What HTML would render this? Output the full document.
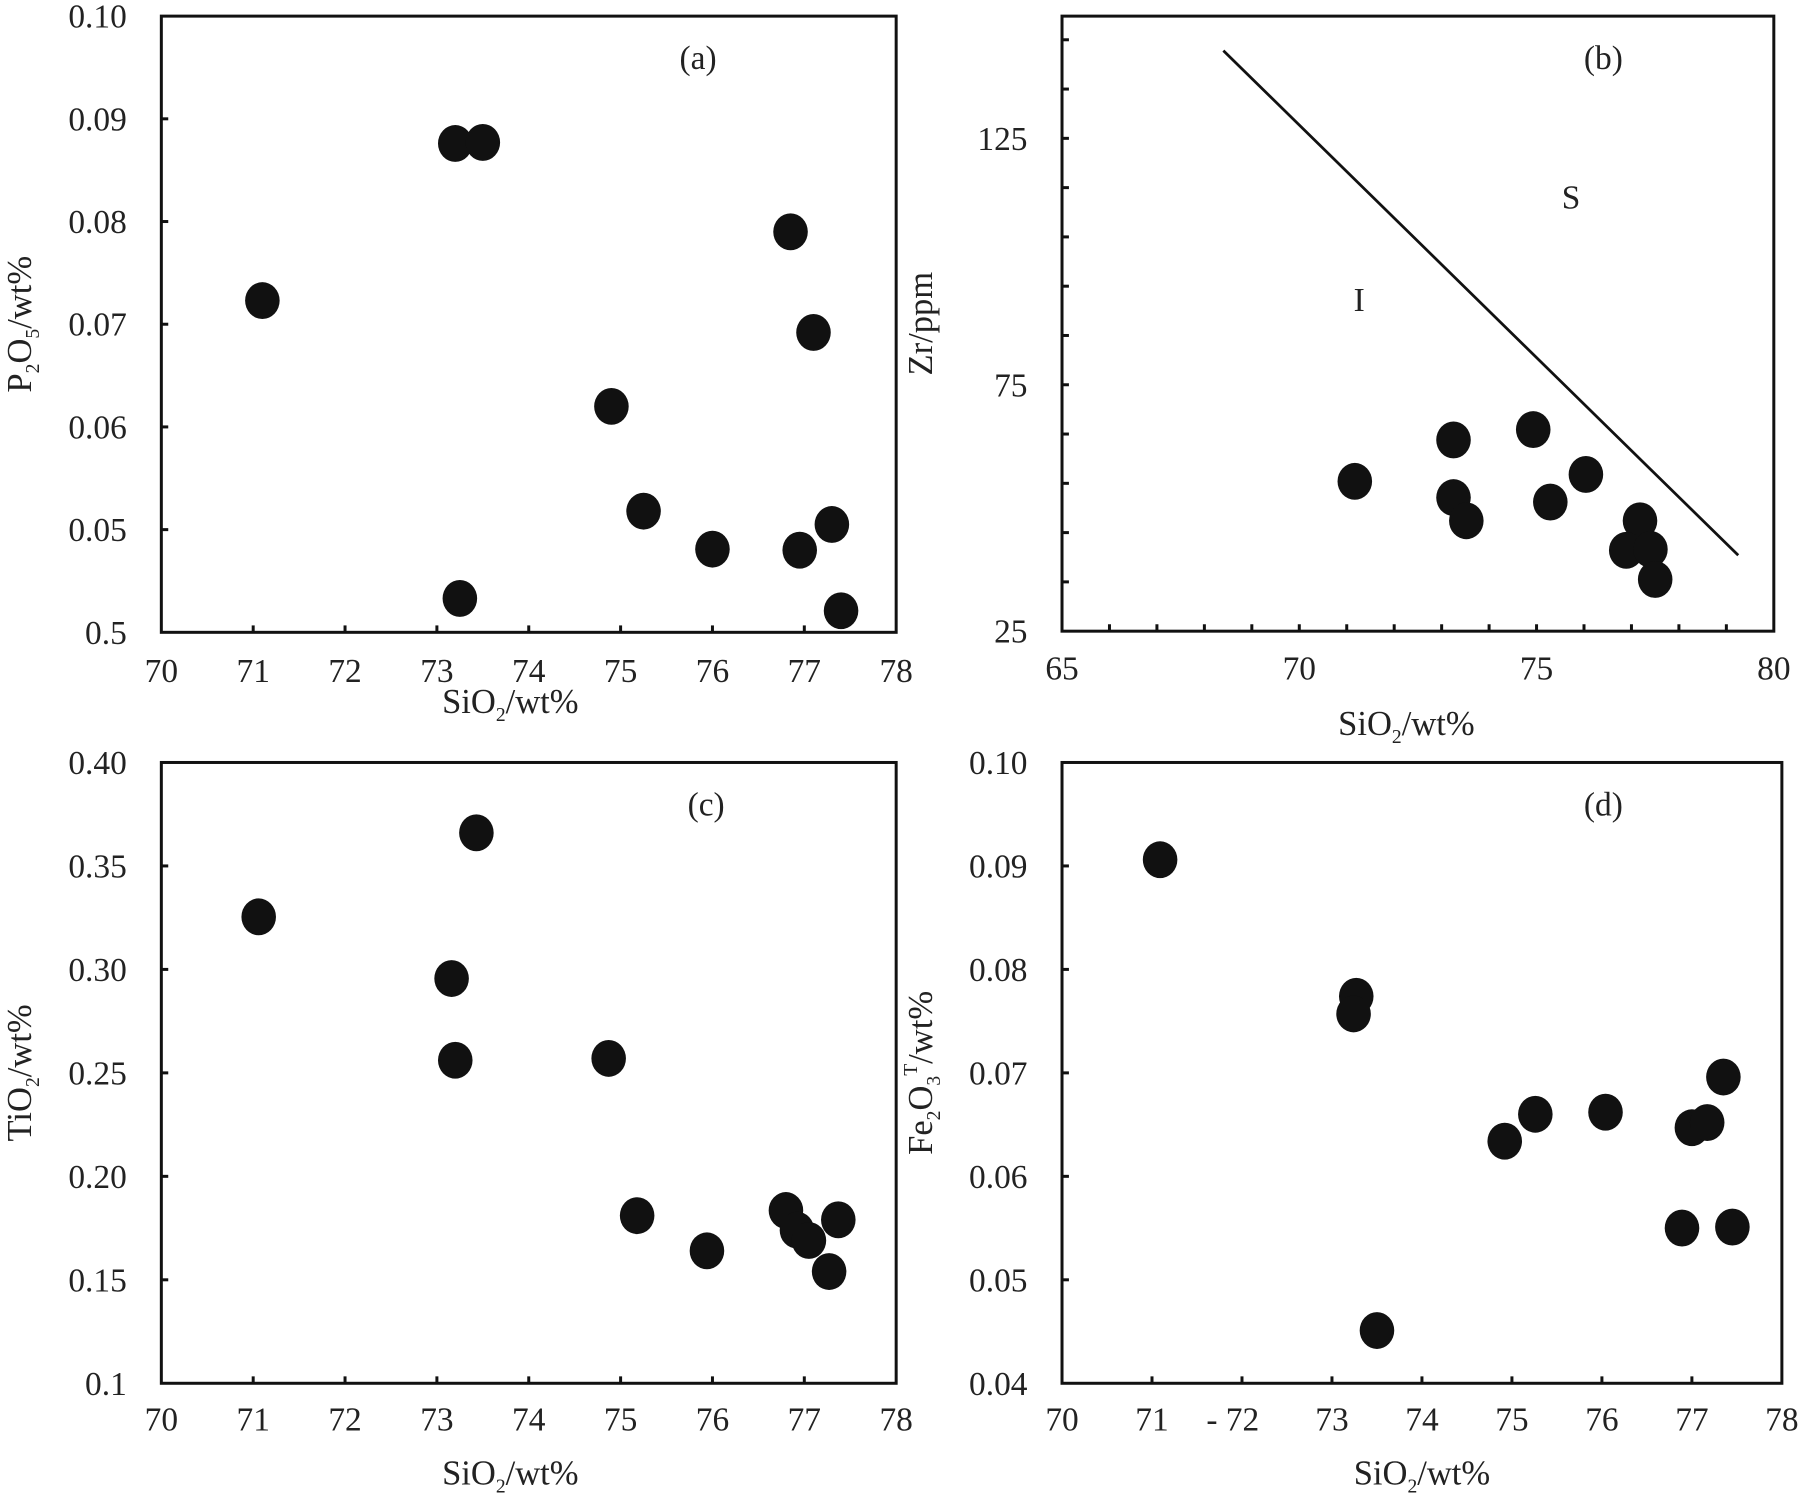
<!DOCTYPE html>
<html><head><meta charset="utf-8"><style>
html,body{margin:0;padding:0;background:#fff}
svg{display:block}
text{font-family:"Liberation Serif",serif;fill:#222}
</style></head><body>
<svg id="fig" width="1805" height="1495" viewBox="0 0 1567 1298" xmlns="http://www.w3.org/2000/svg"></svg>
<script>
// Panel (a) data
const aX = [71.1,73.2,73.5,76.85,77.1,74.9,75.25,76.0,76.95,77.3,73.25,77.4];
const aY = [0.0723,0.0876,0.0877,0.079,0.0692,0.062,0.0518,0.0481,0.048,0.0505,0.0433,0.0421];
const aYTicks = ["0.5","0.05","0.06","0.07","0.08","0.09","0.10"];
// Panel (b) data
const bX = [71.17,73.25,74.93,76.04,73.25,73.52,75.29,77.18,76.89,77.4,77.5];
const bY = [55.4,63.8,65.9,56.8,52.1,47.4,51.2,47.4,41.4,41.6,35.5];
const bLineX = [68.4,79.25];
const bLineY = [142.8,40.4];
const bXTicks = ["65","70","75","80"];
const bYTicks = ["25","75","125"];
// Panel (c) data
const cX = [71.06,73.43,73.16,73.2,74.87,75.18,75.94,76.8,76.92,77.05,77.37,77.27];
const cY = [0.3254,0.366,0.2956,0.2561,0.257,0.181,0.164,0.1835,0.174,0.169,0.179,0.154];
const cYTicks = ["0.1","0.15","0.20","0.25","0.30","0.35","0.40"];
// Panel (d) data
const dX = [71.09,73.27,73.24,73.5,74.92,75.26,76.04,77.0,77.17,77.35,76.89,77.45];
const dY = [0.0906,0.0774,0.0757,0.0451,0.0634,0.066,0.0662,0.0647,0.0652,0.0696,0.055,0.0551];
const dYTicks = ["0.04","0.05","0.06","0.07","0.08","0.09","0.10"];
const sXTicks = ["70","71","72","73","74","75","76","77","78"];
const dXTicks = ["70","71","- 72","73","74","75","76","77","78"];

const NS="http://www.w3.org/2000/svg";
const svg=document.getElementById('fig');
function mk(tag,attrs,parent,txt){const e=document.createElementNS(NS,tag);for(const k in attrs)e.setAttribute(k,attrs[k]);if(txt!==undefined)e.textContent=txt;(parent||svg).appendChild(e);return e;}
const FS=29;
function panel(o){
  const g=mk('g',{});
  
  
  const sx=v=>o.L+(v-o.x0)/(o.x1-o.x0)*(o.R-o.L);
  const sy=v=>o.B-(v-o.y0)/(o.y1-o.y0)*(o.B-o.T);
  const fr=mk('rect',{x:o.L,y:o.T,width:o.R-o.L,height:o.B-o.T,fill:'none',stroke:'#111','stroke-width':2.6},g);
  
  
  const xt=mk('g',{},g);
  
  
  for(let v=o.x0+o.xminor;v<o.x1-1e-9;v+=o.xminor){mk('line',{x1:sx(v),x2:sx(v),y1:o.B,y2:o.B-6,stroke:'#111','stroke-width':2.6},xt);}
  o.xTicks.forEach((lab,i)=>{const v=o.x0+i*o.xstep;
    const t=mk('text',{x:sx(v)+(lab.startsWith('-')?-8:0),y:o.B+o.xtb,'text-anchor':'middle','font-size':FS},g,lab);
    
    });
  for(let v=o.y0+o.yminor;v<o.y1-1e-9;v+=o.yminor){mk('line',{x1:o.L,x2:o.L+6,y1:sy(v),y2:sy(v),stroke:'#111','stroke-width':2.6},xt);}
  o.yTicks.forEach((lab,i)=>{const v=o.y0+i*o.ystep;
    const t=mk('text',{x:o.L-30,y:sy(v)+10,'text-anchor':'end','font-size':FS},g,lab);
    
    });
  const xl=mk('text',{x:(o.L+o.R)/2+o.xlo,y:o.B+o.xlb,'text-anchor':'middle','font-size':FS+1},g);
  
  
  xl.innerHTML='SiO<tspan font-size="17" dy="7">2</tspan><tspan dy="-7">/wt%</tspan>';
  const yl=mk('text',{transform:`translate(${o.L-113},${(o.T+o.B)/2}) rotate(-90)`,'text-anchor':'middle','font-size':FS+1},g);
  
  
  yl.innerHTML=o.ytitle;
  const pl=mk('text',{x:o.labX,y:o.T+46,'text-anchor':'middle','font-size':FS},g,o.label);
  
  
  if(o.line){const ln=mk('line',{x1:sx(o.line[0][0]),y1:sy(o.line[1][0]),x2:sx(o.line[0][1]),y2:sy(o.line[1][1]),stroke:'#111','stroke-width':2.4},g);
    
    }
  const pts=mk('g',{},g);
  
  
  o.xs.forEach((x,i)=>{const c=mk('ellipse',{cx:sx(x),cy:sy(o.ys[i]),rx:15,ry:16,fill:'#111'},pts);
    
    });
}
panel({id:'a',L:140,R:778,T:14,B:549,x0:70,x1:78,xstep:1,xminor:1,y0:0.04,y1:0.10,ystep:0.01,yminor:0.01,
  xTicks:sXTicks,yTicks:aYTicks,xs:aX,ys:aY,label:'(a)',labX:606,xlo:-16,xtb:43,xlb:70,
  ytitle:'P<tspan font-size="17" dy="7">2</tspan><tspan dy="-7">O</tspan><tspan font-size="17" dy="7">5</tspan><tspan dy="-7">/wt%</tspan>'});
panel({id:'b',L:922,R:1540,T:14,B:548,x0:65,x1:80,xstep:5,xminor:1,y0:25,y1:149.8,ystep:50,yminor:10,
  xTicks:bXTicks,yTicks:bYTicks,xs:bX,ys:bY,label:'(b)',labX:1392,xlo:-10,xtb:42,xlb:90,line:[bLineX,bLineY],
  ytitle:'Zr/ppm'});
const ti=mk('text',{x:1180,y:270,'text-anchor':'middle','font-size':FS},null,'I');


const ts=mk('text',{x:1364,y:181,'text-anchor':'middle','font-size':FS},null,'S');


panel({id:'c',L:140,R:778,T:662,B:1201,x0:70,x1:78,xstep:1,xminor:1,y0:0.1,y1:0.4,ystep:0.05,yminor:0.05,
  xTicks:sXTicks,yTicks:cYTicks,xs:cX,ys:cY,label:'(c)',labX:613,xlo:-16,xtb:41,xlb:88,
  ytitle:'TiO<tspan font-size="17" dy="7">2</tspan><tspan dy="-7">/wt%</tspan>'});
panel({id:'d',L:922,R:1547,T:662,B:1201,x0:70,x1:78,xstep:1,xminor:1,y0:0.04,y1:0.10,ystep:0.01,yminor:0.01,
  xTicks:dXTicks,yTicks:dYTicks,xs:dX,ys:dY,label:'(d)',labX:1392,xlo:0,xtb:41,xlb:88,
  ytitle:'Fe<tspan font-size="17" dy="7">2</tspan><tspan dy="-7">O</tspan><tspan font-size="17" dy="7">3</tspan><tspan font-size="17" dy="-20">T</tspan><tspan dy="13">/wt%</tspan>'});
</script>
</body></html>
